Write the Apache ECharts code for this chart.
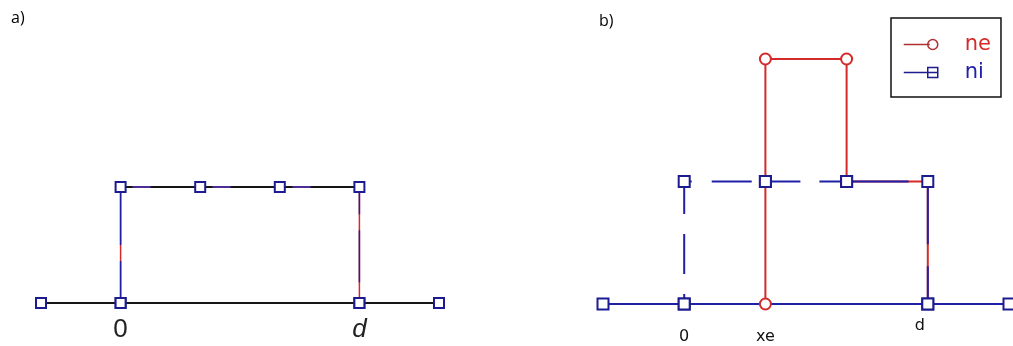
<!DOCTYPE html>
<html>
<head>
<meta charset="utf-8">
<script src="https://cdn.jsdelivr.net/npm/echarts@6/dist/echarts.min.js"></script>
<style>
    html, body { margin: 0; padding: 0; background: #fff; }
    #chart { width: 1013px; height: 346px; }
</style>
</head>
<body>
<div id="chart"></div>
<script>
    // panel a) - both densities coincide
    const aBaseX = [-1, 0, 3, 4];
    const aBaseY = [0, 0, 0, 0];
    const aRectX = [0, 0, 1, 2, 3, 3];
    const aRectY = [0, 1, 1, 1, 1, 0];
    const aTopX = [0, 1, 2, 3];
    const aTopY = [1, 1, 1, 1];
    const aTicks = [0, 3];
    const aTickLabels = ['0', 'd'];

    // panel b)
    const neX = [1, 1, 2, 2, 3, 3];
    const neY = [0, 2, 2, 1, 1, 0];
    const niBaseX = [-1, 0, 3, 4];
    const niBaseY = [0, 0, 0, 0];
    const niDash1X = [0, 0, 1];
    const niDash1Y = [0, 1, 1];
    const niDash2X = [1, 2];
    const niDash2Y = [1, 1];
    const niSolidX = [2, 3, 3];
    const niSolidY = [1, 1, 0];
    const bTicks = [0, 1, 3];
    const bTickLabels = ['0', 'xe', 'd'];

    const RED = '#d42a2a';
    const BLUE = '#1f1fa8';
    const NAVY = '#1c1c90';

    function zip(xs, ys) {
        return xs.map((x, i) => [x, ys[i]]);
    }

    const chart = echarts.init(document.getElementById('chart'), null, { renderer: 'canvas' });

    const hiddenAxis = {
        axisLine: { show: false },
        axisTick: { show: false },
        splitLine: { show: false }
    };

    const sq = (z, extra) => Object.assign({
        type: 'line',
        symbol: 'emptyRect',
        symbolSize: 10,
        clip: false,
        z: z,
        silent: true,
        emphasis: { disabled: true }
    }, extra);

    chart.setOption({
        animation: false,
        backgroundColor: '#fff',
        title: [
            { text: 'a)', left: 6, top: 5, textStyle: { fontSize: 16, fontWeight: 'normal', color: '#000', fontFamily: 'Open Sans' } },
            { text: 'b)', left: 594, top: 8, textStyle: { fontSize: 16, fontWeight: 'normal', color: '#000', fontFamily: 'Open Sans' } }
        ],
        legend: {
            left: 891,
            top: 18,
            orient: 'vertical',
            padding: [16, 10, 14, 12],
            itemGap: 7,
            itemWidth: 34,
            itemHeight: 10,
            borderColor: '#111',
            borderWidth: 1.5,
            borderRadius: 0,
            selectedMode: false,
            itemStyle: { color: 'transparent', borderWidth: 1.5 },
            textStyle: { fontSize: 21, fontFamily: 'DejaVu Sans', padding: [0, 0, 0, 22] },
            data: [
                { name: 'ne', icon: 'path://M0,5 L26,5 M24,5 A5,5 0 1,0 34,5 A5,5 0 1,0 24,5 Z', textStyle: { color: RED }, itemStyle: { borderColor: '#b03030' } },
                { name: 'ni', icon: 'path://M0,5 L34,5 M24,0 L34,0 L34,10 L24,10 Z', textStyle: { color: BLUE }, itemStyle: { borderColor: NAVY } }
            ]
        },
        grid: [
            { left: 41, right: 574, top: 71, bottom: 43 },
            { left: 603, right: 4, top: 59, bottom: 42 }
        ],
        xAxis: [
            Object.assign({
                gridIndex: 0, type: 'value', min: -1, max: 4, interval: 1,
                axisLabel: {
                    margin: 14,
                    fontSize: 26,
                    fontFamily: 'Liberation Sans Narrow, Liberation Sans',
                    color: '#222',
                    formatter: v => {
                        const i = aTicks.indexOf(v);
                        if (i < 0) return '';
                        return i === 1 ? '{it|' + aTickLabels[i] + '}' : aTickLabels[i];
                    },
                    rich: { it: { fontStyle: 'italic', fontSize: 26, color: '#222', fontFamily: 'Liberation Sans' } }
                }
            }, hiddenAxis),
            Object.assign({
                gridIndex: 1, type: 'value', min: -1, max: 4, interval: 1,
                axisLabel: {
                    margin: 14,
                    fontSize: 16,
                    fontFamily: 'DejaVu Sans',
                    color: '#111',
                    formatter: v => {
                        const i = bTicks.indexOf(v);
                        if (i < 0) return '';
                        return i === 2 ? '{up|' + bTickLabels[i] + '}' : '{lo|' + bTickLabels[i] + '}';
                    },
                    rich: {
                        lo: { padding: [11, 0, 0, 0], fontSize: 16, fontFamily: 'DejaVu Sans', color: '#111' },
                        up: { padding: [0, 16, 0, 0], fontSize: 16, fontFamily: 'DejaVu Sans', color: '#111' }
                    }
                }
            }, hiddenAxis)
        ],
        yAxis: [
            Object.assign({ gridIndex: 0, type: 'value', min: 0, max: 2, axisLabel: { show: false } }, hiddenAxis),
            Object.assign({ gridIndex: 1, type: 'value', min: 0, max: 2, axisLabel: { show: false } }, hiddenAxis)
        ],
        series: [
            // panel a
            sq(2, {
                name: 'ne_a', xAxisIndex: 0, yAxisIndex: 0,
                data: zip(aRectX, aRectY), symbol: 'none',
                lineStyle: { color: RED, width: 1.5 }, itemStyle: { color: RED }
            }),
            sq(3, {
                name: 'ni_a', xAxisIndex: 0, yAxisIndex: 0,
                data: zip(aRectX, aRectY), symbol: 'none',
                lineStyle: { color: BLUE, width: 1.5, type: [52, 16], dashOffset: 10 }, itemStyle: { color: BLUE }
            }),
            sq(4, {
                name: 'top_a', xAxisIndex: 0, yAxisIndex: 0,
                data: zip(aTopX, aTopY), symbol: 'none',
                lineStyle: { color: '#151515', width: 1.8, type: [62, 18], dashOffset: 50 }, itemStyle: { color: '#151515' }
            }),
            sq(5, {
                name: 'base_a', xAxisIndex: 0, yAxisIndex: 0,
                data: zip(aBaseX, aBaseY), symbol: 'emptyRect',
                lineStyle: { color: '#151515', width: 2 },
                itemStyle: { color: NAVY, borderColor: NAVY, borderWidth: 2.5 }
            }),
            sq(6, {
                name: 'mark_a', xAxisIndex: 0, yAxisIndex: 0,
                data: zip(aRectX, aRectY),
                lineStyle: { width: 0, opacity: 0 },
                itemStyle: { color: NAVY, borderColor: NAVY, borderWidth: 2.5 }
            }),
            // panel b
            sq(2, {
                name: 'ni', xAxisIndex: 1, yAxisIndex: 1,
                data: zip(niBaseX, niBaseY),
                symbolSize: 11,
                lineStyle: { color: BLUE, width: 2 },
                itemStyle: { color: NAVY, borderColor: NAVY, borderWidth: 2.5 }
            }),
            sq(3, {
                name: 'ne', xAxisIndex: 1, yAxisIndex: 1,
                data: zip(neX, neY),
                symbol: (v, p) => p.dataIndex < 3 ? 'emptyCircle' : 'none',
                symbolSize: 11,
                lineStyle: { color: RED, width: 2 },
                itemStyle: { color: RED, borderColor: '#c04040', borderWidth: 1.5 }
            }),
            sq(4, {
                name: 'ni', xAxisIndex: 1, yAxisIndex: 1,
                data: zip(niDash1X, niDash1Y),
                symbolSize: 11,
                lineStyle: { color: BLUE, width: 2, type: [40, 20], dashOffset: 30 },
                itemStyle: { color: NAVY, borderColor: NAVY, borderWidth: 2.5 }
            }),
            sq(4, {
                name: 'ni', xAxisIndex: 1, yAxisIndex: 1,
                data: zip(niDash2X, niDash2Y),
                symbolSize: 11,
                lineStyle: { color: BLUE, width: 2, type: [35, 19], dashOffset: 0 },
                itemStyle: { color: NAVY, borderColor: NAVY, borderWidth: 2.5 }
            }),
            sq(4, {
                name: 'ni', xAxisIndex: 1, yAxisIndex: 1,
                data: zip(niSolidX, niSolidY),
                symbolSize: 11,
                lineStyle: { color: BLUE, width: 2, type: [60, 22], dashOffset: 80 },
                itemStyle: { color: NAVY, borderColor: NAVY, borderWidth: 2.5 }
            })
        ]
    });

    window.onresize = function () {
        chart.resize();
    };
</script>
</body>
</html>
